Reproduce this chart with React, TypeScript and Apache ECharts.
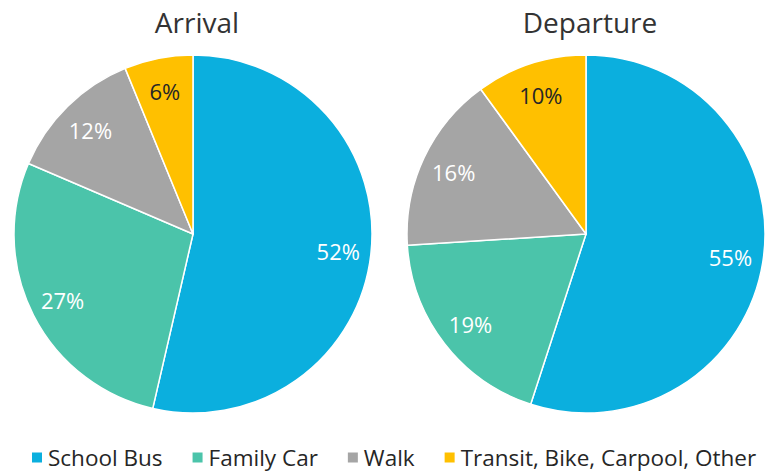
import React, { useEffect, useRef } from "react";
import * as echarts from "echarts";

const categories = ["School Bus", "Family Car", "Walk", "Transit, Bike, Carpool, Other"];
const arrivalValues = [52, 27, 12, 6];
const departureValues = [55, 19, 16, 10];
const titles = ["Arrival", "Departure"];
const colors = ["#0BAFDE", "#4BC4AA", "#A5A5A5", "#FFC000"];
const labelColors = ["#FFFFFF", "#FFFFFF", "#FFFFFF", "#262626"];

const FONT = "Open Sans";
const R = 179;
const centers = [
  [193, 234],
  [586, 234],
];

export default function App() {
  const ref = useRef<HTMLDivElement>(null);
  useEffect(() => {
    document.body.style.margin = "0";
    const chart = echarts.init(ref.current!, null, { renderer: "svg" });
    const datasets = [arrivalValues, departureValues];
    const series: any[] = [];
    datasets.forEach((vals, i) => {
      series.push({
        type: "pie",
        center: centers[i],
        radius: R,
        startAngle: 90,
        clockwise: true,
        silent: true,
        label: { show: false },
        labelLine: { show: false },
        itemStyle: { borderColor: "#fff", borderWidth: 1.5 },
        data: categories.map((c, k) => ({ name: c, value: vals[k], itemStyle: { color: colors[k] } })),
      });
      series.push({
        type: "pie",
        center: centers[i],
        radius: [R * 0.6, R],
        startAngle: 90,
        clockwise: true,
        silent: true,
        labelLine: { show: false },
        itemStyle: { color: "rgba(0,0,0,0)", borderWidth: 0 },
        data: categories.map((c, k) => ({
          name: c,
          value: vals[k],
          label: {
            show: true,
            position: "inside",
            formatter: "{c}%",
            color: labelColors[k],
            fontSize: 22,
            fontFamily: FONT,
          },
        })),
      });
    });
    chart.setOption({
      animation: false,
      backgroundColor: "#fff",
      title: titles.map((t, i) => ({
        text: t,
        left: centers[i][0] + 4,
        top: 8,
        padding: 0,
        textAlign: "center",
        textStyle: { fontSize: 28, fontWeight: "normal", color: "#333", fontFamily: FONT },
      })),
      legend: {
        left: 30,
        top: 446,
        icon: "rect",
        itemWidth: 12,
        itemHeight: 12,
        itemGap: 28,
        padding: 0,
        textStyle: { fontSize: 22.5, lineHeight: 22, color: "#262626", fontFamily: FONT },
        data: categories.map((c, k) => ({ name: c, itemStyle: { color: colors[k] } })),
      },
      series,
    });
    return () => chart.dispose();
  }, []);
  return <div ref={ref} style={{ width: 768, height: 474 }} />;
}
